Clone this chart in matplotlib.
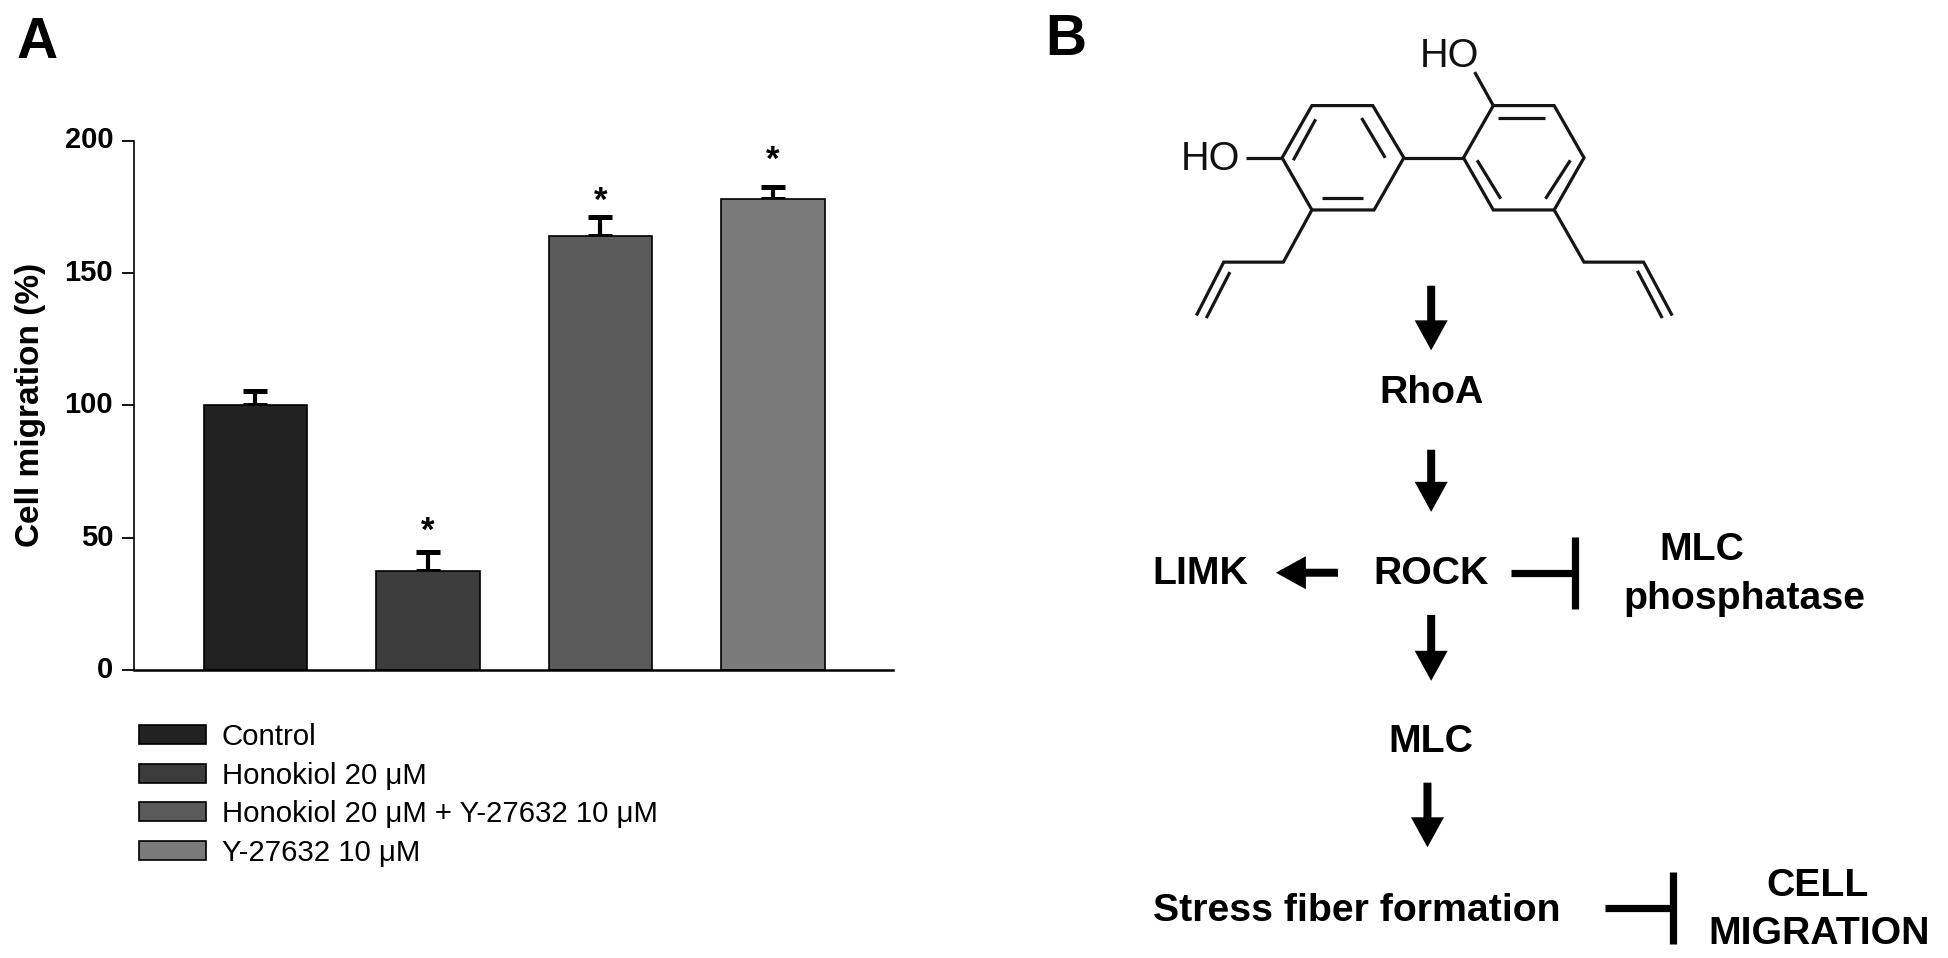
# Cell migration bar chart (A) and honokiol pathway diagram (B)

# Imports
import matplotlib
matplotlib.use("Agg")
import matplotlib.pyplot as plt
import numpy as np

plt.rcParams["font.family"] = ["Liberation Sans", "DejaVu Sans"]

# Data
groups = ["Control", "Honokiol 20 μM", "Honokiol 20 μM + Y-27632 10 μM", "Y-27632 10 μM"]
migration = [100, 37.5, 164, 178]
errors = [5.5, 7, 7, 4.5]
star_heights = [None, 52.5, 177, 192.5]
y_ticks = [0, 50, 100, 150, 200]
bar_colors = ["#222222", "#3c3c3c", "#5a5a5a", "#7a7a7a"]

W, H = 1948, 958
S = 1948 / 1568

fig = plt.figure(figsize=(W / 100, H / 100), dpi=100)

# Panel A
ax = fig.add_axes([134 / W, 1 - 670 / H, (893 - 134) / W, (670 - 140.5) / H])
x = np.arange(len(groups))
bars = ax.bar(x, migration, 0.6, color=bar_colors, edgecolor="black", linewidth=1.2, zorder=2)
ax.errorbar(x, migration, yerr=[np.zeros(4), errors], fmt="none", ecolor="black",
            elinewidth=3, capsize=8.5, capthick=3.6, zorder=1)
for i in x:
    if star_heights[i] is not None:
        ax.text(i, star_heights[i], "*", ha="center", va="center",
                fontsize=25, fontweight="bold")

ax.set_xlim(-0.704, 3.696)
ax.set_ylim(0, 200)
ax.set_xticks([])
ax.set_yticks(y_ticks)
ax.tick_params(axis="y", length=9, width=1.3, pad=6, labelsize=21)
for t in ax.get_yticklabels():
    t.set_fontweight("bold")
    t.set_verticalalignment("center")
ax.spines["top"].set_visible(False)
ax.spines["right"].set_visible(False)
ax.spines["left"].set_linewidth(1.2)
ax.spines["bottom"].set_linewidth(1.8)
ax.set_ylabel("Cell migration (%)", fontsize=24, fontweight="bold", labelpad=13)

leg = ax.legend(bars, groups, loc="upper left", bbox_to_anchor=(0.006, -0.1),
                frameon=False, fontsize=21.2, handlelength=2.28, handleheight=0.6,
                handletextpad=0.55, labelspacing=0.36, borderpad=0, borderaxespad=0)

# Panel B, drawn on a full figure overlay in pixel coordinates
ov = fig.add_axes([0, 0, 1, 1], zorder=5)
ov.set_xlim(0, W)
ov.set_ylim(H, 0)
ov.axis("off")
ov.patch.set_alpha(0)

# Molecule
bonds = [
    [(1032, 127), (1056, 85), (1105, 85), (1130, 127), (1106, 169), (1056, 169), (1032, 127)],
    [(1178, 127), (1202, 85), (1251, 85), (1275, 127), (1251, 169), (1202, 169), (1178, 127)],
    [(1130, 127), (1178, 127)],
    [(1003, 127), (1032, 127)],
    [(1202, 85), (1187, 58)],
    [(1056, 169), (1033, 211), (985, 211), (963, 254)],
    [(1251, 169), (1275, 211), (1323, 211), (1346, 254)],
    # inner double bonds
    [(1041, 129), (1059, 96)],
    [(1096, 95), (1115, 127)],
    [(1064, 159), (1097, 159)],
    [(1206, 95), (1244, 95)],
    [(1189, 129), (1208, 160)],
    [(1244, 160), (1264, 129)],
    [(990, 219), (971, 256)],
    [(1318, 218), (1338, 256)],
]
for b in bonds:
    xs, ys = zip(*b)
    ov.plot(np.array(xs) * S, np.array(ys) * S, color="#151515", lw=2.3,
            solid_joinstyle="miter", solid_capstyle="butt")

ov.text(1167 * S, 45 * S, "HO", ha="center", va="center", fontsize=28.5, color="#111111")
ov.text(974 * S, 128 * S, "HO", ha="center", va="center", fontsize=28.5, color="#111111")

# Arrows (x0, y0, x1, y1)
arrows = [
    (1152, 230, 1152, 282),
    (1152, 362, 1152, 412),
    (1077, 461, 1027, 461),
    (1152, 495, 1152, 548),
    (1149, 630, 1149, 682),
]
for x0, y0, x1, y1 in arrows:
    ov.arrow(x0 * S, y0 * S, (x1 - x0) * S, (y1 - y0) * S, width=8, head_width=33,
             head_length=30, length_includes_head=True, color="black", lw=0)

# Inhibition bars (x0, x1, y, half height)
blocks = [(1216, 1268, 461, 29), (1292, 1347, 731, 29)]
for x0, x1, y, h in blocks:
    ov.plot([x0 * S, x1 * S], [y * S, y * S], color="black", lw=5.2, solid_capstyle="butt")
    ov.plot([x1 * S, x1 * S], [(y - h) * S, (y + h) * S], color="black", lw=5.2, solid_capstyle="butt")

# Labels
labels = [
    ("RhoA", 1152, 316),
    ("ROCK", 1152, 462),
    ("LIMK", 966, 462),
    ("MLC", 1370, 443),
    ("phosphatase", 1404, 482),
    ("MLC", 1152, 597),
    ("Stress fiber formation", 1092, 733),
    ("CELL", 1463, 713),
    ("MIGRATION", 1464, 752),
]
for txt, lx, ly in labels:
    ov.text(lx * S, ly * S, txt, ha="center", va="center", fontsize=28.3, fontweight="bold")

ov.text(30 * S, 35 * S, "A", ha="center", va="center", fontsize=41, fontweight="bold")
ov.text(858 * S, 32 * S, "B", ha="center", va="center", fontsize=41, fontweight="bold")

fig.savefig("out.png", dpi=100, facecolor="white")
